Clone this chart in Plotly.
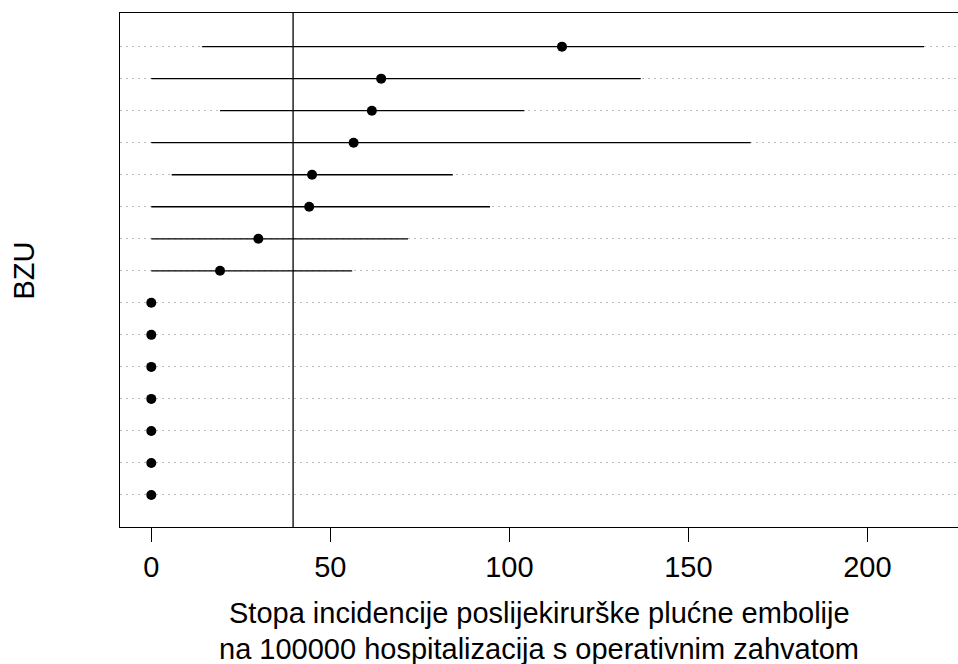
import plotly.graph_objects as go

# Incidence rate per region (rows ordered bottom to top) with 95% CI bounds
rows = list(range(1, 16))
rate = [0, 0, 0, 0, 0, 0, 0, 19.2, 29.9, 44.1, 44.9, 56.5, 61.6, 64.2, 114.7]
ci_low = [None] * 7 + [0, 0, 0, 5.7, 0, 19.2, 0, 14.2]
ci_high = [None] * 7 + [56.1, 71.7, 94.6, 84.2, 167.4, 104.2, 136.7, 215.8]
reference_rate = 39.6
x_ticks = [0, 50, 100, 150, 200]

FONT = "Liberation Sans, Arial, sans-serif"

# Build CI segments separated by gaps
seg_x, seg_y = [], []
for r, lo, hi in zip(rows, ci_low, ci_high):
    if lo is None or hi is None:
        continue
    seg_x += [lo, hi, None]
    seg_y += [r, r, None]

fig = go.Figure()
fig.add_trace(go.Scatter(
    x=seg_x, y=seg_y, mode="lines",
    line=dict(color="black", width=1.3),
    hoverinfo="skip", showlegend=False,
))
fig.add_trace(go.Scatter(
    x=rate, y=rows, mode="markers",
    marker=dict(color="black", size=10, symbol="circle"),
    showlegend=False,
))

# Overall reference rate
fig.add_shape(type="line", xref="x", yref="paper",
              x0=reference_rate, x1=reference_rate, y0=0, y1=1,
              line=dict(color="black", width=1.3))

fig.update_xaxes(
    range=[-8.74, 225.3],
    tickvals=x_ticks, ticktext=[str(v) for v in x_ticks],
    ticks="outside", ticklen=14, tickwidth=1.3, tickcolor="black",
    tickfont=dict(family=FONT, size=29, color="black"),
    showline=True, mirror=True, linecolor="black", linewidth=1.3,
    showgrid=False, zeroline=False,
)
fig.update_yaxes(
    range=[0, 16.05],
    tickvals=rows, showticklabels=False, ticks="",
    showgrid=True, gridcolor="#bdbdbd", gridwidth=1, griddash="2px,4px",
    showline=True, mirror=True, linecolor="black", linewidth=1.3,
    zeroline=False,
)

fig.add_annotation(
    text="BZU", xref="paper", yref="paper", x=-0.114, y=0.5,
    xanchor="center", yanchor="middle", textangle=-90, showarrow=False,
    font=dict(family=FONT, size=29, color="black"),
)
fig.add_annotation(
    text="Stopa incidencije poslijekirurške plućne embolije",
    xref="paper", yref="paper", x=0.5, y=-0.168,
    xanchor="center", yanchor="middle", showarrow=False,
    font=dict(family=FONT, size=29, color="black"),
)
fig.add_annotation(
    text="na 100000 hospitalizacija s operativnim zahvatom",
    xref="paper", yref="paper", x=0.5, y=-0.237,
    xanchor="center", yanchor="middle", showarrow=False,
    font=dict(family=FONT, size=29, color="black"),
)

fig.update_layout(
    width=958, height=664,
    margin=dict(l=120, r=0, t=13, b=137),
    paper_bgcolor="white", plot_bgcolor="white",
)

fig.write_html("out.html")
